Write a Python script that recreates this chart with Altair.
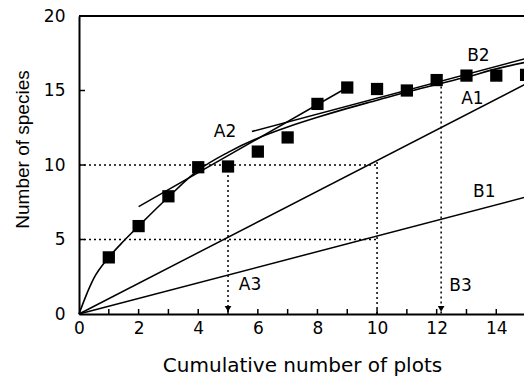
import altair as alt
import pandas as pd

# observed cumulative species (squares)
obs_x = [1, 2, 3, 4, 5, 6, 7, 8, 9, 10, 11, 12, 13, 14, 15]
obs_y = [3.8, 5.9, 7.9, 9.85, 9.9, 10.9, 11.85, 14.1, 15.2, 15.1, 15.0, 15.7, 16.0, 16.0, 16.05]

# fitted accumulation curve
fit_x = [0, 0.2, 0.5, 1, 1.5, 2, 3, 4, 5, 6, 7, 8, 9, 10, 11, 12, 13, 14, 15]
fit_y = [0, 1.05, 2.4, 3.8, 4.9, 5.9, 7.85, 9.65, 10.85, 11.8, 12.55, 13.2, 13.8, 14.35, 14.9, 15.4, 15.9, 16.45, 16.9]

# straight lines: A1, B1 (through origin), A2, B2 (tangents)
line_names = ["A1", "B1", "A2", "B2"]
line_x1 = [0, 0, 2.0, 5.8]
line_y1 = [0, 0, 7.2, 12.25]
line_x2 = [15, 15, 9.0, 15.1]
line_y2 = [15.45, 7.85, 15.2, 17.2]

# dotted guide lines
dot_x1 = [0, 0, 5, 10, 12.15]
dot_y1 = [10, 5, 10, 10.2, 15.6]
dot_x2 = [10, 10, 5, 10, 12.15]
dot_y2 = [10, 5, 0, 0, 0]

# arrow heads
arrow_x = [5, 12.15]
arrow_y = [0.35, 0.35]

# labels
lab_text = ["A1", "B1", "A2", "B2", "A3", "B3"]
lab_x = [13.2, 13.6, 4.9, 13.4, 5.74, 12.8]
lab_y = [14.4, 8.2, 12.2, 17.3, 1.95, 1.9]

x_ticks = list(range(1, 15))
y_ticks = [5, 10, 15]

W, H = 445, 298

xs = alt.Scale(domain=[0, 14.93], nice=False, zero=False)
ys = alt.Scale(domain=[0, 20], nice=False, zero=False)

xaxis = alt.Axis(values=[0, 2, 4, 6, 8, 10, 12, 14], title="Cumulative number of plots",
                 labelFont="DejaVu Sans", labelFontSize=17, labelPadding=6, labelColor="black",
                 ticks=False, tickSize=0, grid=False, domainColor="black", domainWidth=2,
                 titleFont="DejaVu Sans", titleFontSize=20, titleFontWeight="normal",
                 titleColor="black", titleX=223, titleY=57, titleBaseline="alphabetic",
                 titleAlign="center", labelFlush=False, labelOverlap=False)
yaxis = alt.Axis(values=[0, 5, 10, 15, 20], title="Number of species",
                 labelFont="DejaVu Sans", labelFontSize=17, labelPadding=14, labelColor="black",
                 ticks=False, tickSize=0, grid=False, domainColor="black", domainWidth=2,
                 titleFont="Liberation Sans", titleFontSize=19, titleFontWeight="normal",
                 titleColor="black", titleAngle=270, titleX=-51, titleY=133,
                 titleBaseline="alphabetic", titleAlign="center", labelFlush=False,
                 labelOverlap=False)

X = alt.X("x:Q", scale=xs, axis=xaxis)
Y = alt.Y("y:Q", scale=ys, axis=yaxis)

obs_df = pd.DataFrame({"x": obs_x, "y": obs_y})
fit_df = pd.DataFrame({"x": fit_x, "y": fit_y})
lines_df = pd.DataFrame({"name": line_names, "x": line_x1, "y": line_y1, "x2": line_x2, "y2": line_y2})
dots_df = pd.DataFrame({"x": dot_x1, "y": dot_y1, "x2": dot_x2, "y2": dot_y2})
arrow_df = pd.DataFrame({"x": arrow_x, "y": arrow_y})
lab_df = pd.DataFrame({"x": lab_x, "y": lab_y, "t": lab_text})
xt_df = pd.DataFrame({"x": x_ticks})
yt_df = pd.DataFrame({"y": y_ticks})

squares = alt.Chart(obs_df).mark_point(shape="square", filled=True, size=150,
                                       color="black", opacity=1, clip=False).encode(x=X, y=Y)

fit = alt.Chart(fit_df).mark_line(color="black", strokeWidth=1.6, interpolate="monotone").encode(x=X, y=Y)

straight = alt.Chart(lines_df).mark_rule(color="black", strokeWidth=1.5).encode(
    x=X, y=Y, x2="x2:Q", y2="y2:Q")

dotted = alt.Chart(dots_df).mark_rule(color="black", strokeWidth=1.5, strokeDash=[2, 3]).encode(
    x=X, y=Y, x2="x2:Q", y2="y2:Q")

arrows = alt.Chart(arrow_df).mark_point(shape="triangle-down", filled=True, size=45,
                                        color="black", opacity=1).encode(x=X, y=Y)

labels = alt.Chart(lab_df).mark_text(font="DejaVu Sans", fontSize=17, color="black",
                                     align="center", baseline="middle").encode(
    x=X, y=Y, text="t:N")

xticks = alt.Chart(xt_df).mark_rule(color="black", strokeWidth=1.5).encode(
    x=X, y=alt.value(H), y2=alt.value(H - 5))

yticks = alt.Chart(yt_df).mark_rule(color="black", strokeWidth=1.5).encode(
    y=Y, x=alt.value(0), x2=alt.value(6))

top = alt.Chart(pd.DataFrame({"y": [20]})).mark_rule(color="black", strokeWidth=2).encode(
    y=Y, x=alt.value(0), x2=alt.value(W))

chart = alt.layer(top, xticks, yticks, dotted, straight, fit, arrows, squares, labels).properties(
    width=W, height=H,
    padding={"left": 79, "top": 16, "right": 0, "bottom": 64},
    autosize=alt.AutoSizeParams(type="none"),
    background="white",
).configure_view(stroke=None)

chart.save("out.html", embed_options={"renderer": "svg", "actions": False})
